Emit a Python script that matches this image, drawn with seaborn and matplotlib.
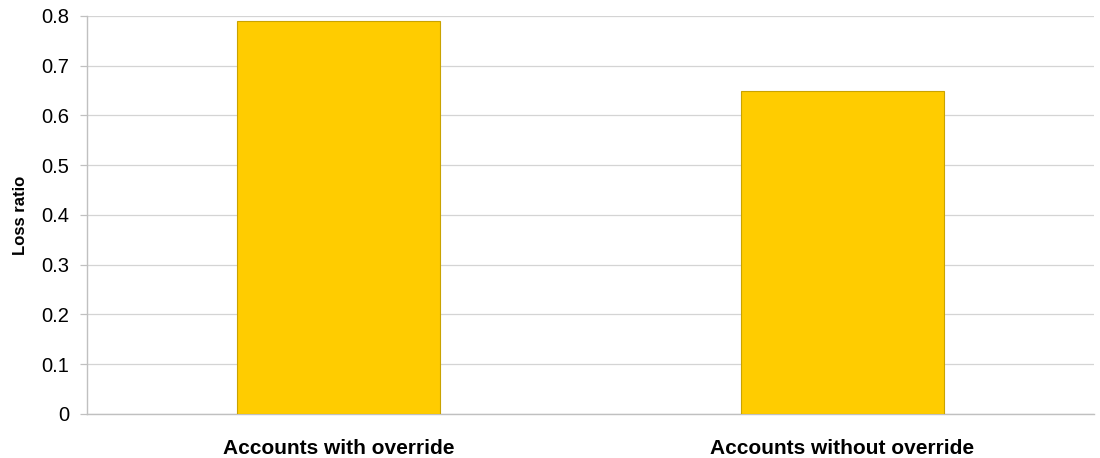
import matplotlib
matplotlib.use("Agg")
import matplotlib.pyplot as plt
import seaborn as sns
import pandas as pd

categories = ["Accounts with override", "Accounts without override"]
loss_ratio = [0.79, 0.65]
y_ticks = [0, 0.1, 0.2, 0.3, 0.4, 0.5, 0.6, 0.7, 0.8]
y_tick_labels = ["0", "0.1", "0.2", "0.3", "0.4", "0.5", "0.6", "0.7", "0.8"]

sns.set_theme(style="white")
plt.rcParams['font.family'] = ['Liberation Sans', 'DejaVu Sans']

df = pd.DataFrame({"category": categories, "loss": loss_ratio})

fig = plt.figure(figsize=(11, 4.58), dpi=100)
ax = fig.add_axes([0.0791, 0.0961, 0.9154, 0.869])

sns.barplot(data=df, x="category", y="loss", ax=ax, color="#FFCC00",
            saturation=1, width=0.403, edgecolor="#C9A300", linewidth=0.8,
            zorder=3)

ax.set_xlim(-0.5, 1.5)
ax.set_ylim(0, 0.8)
ax.set_yticks(y_ticks)
ax.set_yticklabels(y_tick_labels, fontsize=14.5, color="black")
ax.yaxis.grid(True, color="#D4D4D4", linewidth=0.9, zorder=0)
ax.xaxis.grid(False)

ax.set_xticks([0, 1])
ax.set_xticklabels(categories, fontsize=15, fontweight="bold", color="black")
ax.tick_params(axis="x", which="major", length=0, pad=18)
ax.set_xticks([-0.5, 0.5, 1.5], minor=True)
ax.tick_params(axis="x", which="minor", length=6, color="#C0C0C0", width=0.9, direction="out")
ax.tick_params(axis="y", which="major", length=5, color="#C0C0C0", width=0.9, direction="out", left=True, pad=8)

ax.set_xlabel("")
ax.set_ylabel("Loss ratio", fontsize=12, fontweight="bold", color="black", labelpad=9)

for side in ["top", "right"]:
    ax.spines[side].set_visible(False)
for side in ["left", "bottom"]:
    ax.spines[side].set_color("#C0C0C0")
    ax.spines[side].set_linewidth(1.0)

fig.savefig("out.png", dpi=100)
